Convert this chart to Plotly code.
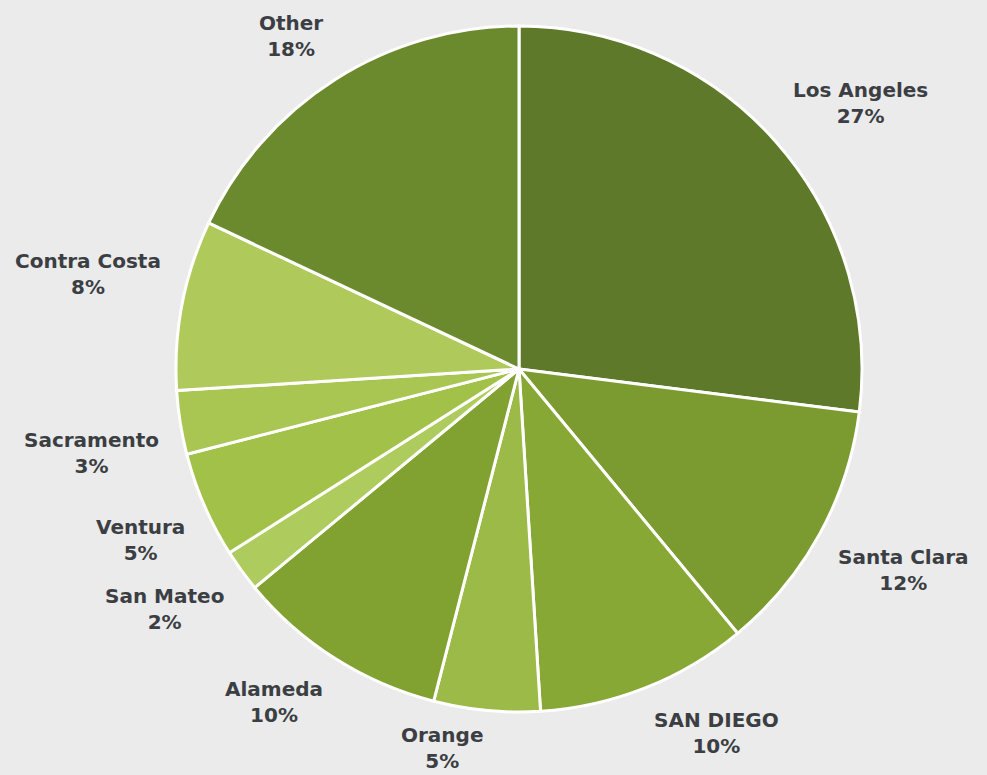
import math
import plotly.graph_objects as go

# County shares, listed clockwise from 12 o'clock
counties = ["Los Angeles", "Santa Clara", "SAN DIEGO", "Orange", "Alameda",
            "San Mateo", "Ventura", "Sacramento", "Contra Costa", "Other"]
shares = [27, 12, 10, 5, 10, 2, 5, 3, 8, 18]
slice_colors = ["#5e7929", "#7b9b31", "#87a835", "#9cba47", "#81a131",
                "#aecb5e", "#a2c148", "#a9c653", "#afca5b", "#6b892d"]

W, H = 987, 775
CX, CY, R = 519, 369, 343          # pie centre and radius in pixels
LABEL_R = 362                       # radius where each label's inner corner sits
FS = 20                             # label font size
BLOCK_H = 2 * 1.3 * FS + 2          # two-line label height
TEXT_COLOR = "#3b3e42"
FONT = "DejaVu Sans"

fig = go.Figure(go.Pie(
    labels=counties,
    values=shares,
    sort=False,
    direction="clockwise",
    rotation=0,
    textinfo="none",
    hoverinfo="label+percent",
    marker=dict(colors=slice_colors, line=dict(color="white", width=3)),
    domain=dict(x=[(CX - R) / W, (CX + R) / W],
                y=[1 - (CY + R) / H, 1 - (CY - R) / H]),
    showlegend=False,
))

# Outside labels placed at each slice's mid-angle, anchored by their nearest corner
total = sum(shares)
cum = 0
annotations = []
for name, v in zip(counties, shares):
    theta = 2 * math.pi * (cum + v / 2) / total
    cum += v
    s, c = math.sin(theta), math.cos(theta)
    px = CX + LABEL_R * s
    py = CY - LABEL_R * c
    yanchor = "bottom" if c > 0 else "top"
    # keep labels inside the figure
    if yanchor == "top":
        py = min(py, H - BLOCK_H)
    else:
        py = max(py, BLOCK_H)
    annotations.append(dict(
        x=px / W, y=1 - py / H, xref="paper", yref="paper",
        text=f"<b>{name}</b><br><b>{round(v / total * 100)}%</b>",
        showarrow=False, align="center",
        xanchor="left" if s >= 0 else "right",
        yanchor=yanchor,
        font=dict(family=FONT, size=FS, color=TEXT_COLOR),
    ))

fig.update_layout(
    width=W, height=H,
    margin=dict(l=0, r=0, t=0, b=0),
    paper_bgcolor="#ebebeb",
    plot_bgcolor="#ebebeb",
    annotations=annotations,
)

fig.write_html("out.html")
